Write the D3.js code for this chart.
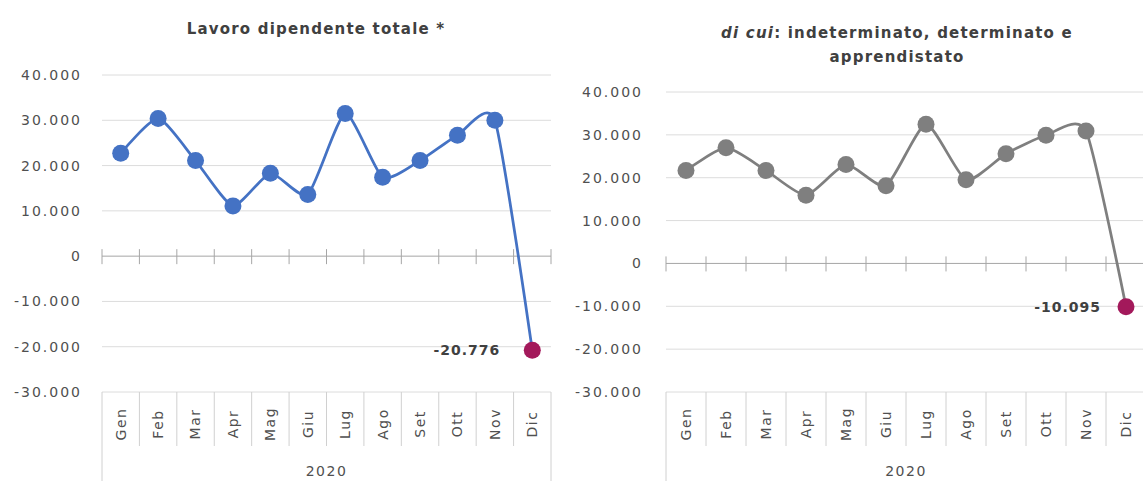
<!DOCTYPE html>
<html>
<head>
<meta charset="utf-8">
<script src="https://cdn.jsdelivr.net/npm/d3@7"></script>
<style>
  html, body { margin: 0; padding: 0; background: #fff; }
  svg { display: block; }
</style>
</head>
<body>
<svg id="chart" width="1143" height="481"></svg>
<script>
// data
var months = ['Gen', 'Feb', 'Mar', 'Apr', 'Mag', 'Giu', 'Lug', 'Ago', 'Set', 'Ott', 'Nov', 'Dic'];
var year = '2020';
var totale = [22700, 30400, 21100, 11100, 18300, 13600, 31500, 17400, 21100, 26700, 30000, -20776];
var dicui = [21700, 27000, 21700, 15900, 23100, 18100, 32500, 19500, 25600, 29900, 30900, -10095];
var yTicks = [40000, 30000, 20000, 10000, 0, -10000, -20000, -30000];

var it = d3.formatLocale({ decimal: ',', thousands: '.', grouping: [3], currency: ['€', ''], minus: '-' });
var fmt = it.format(',d');

var FONT = "'DejaVu Sans', sans-serif";
var svg = d3.select('#chart');

function panel(opt) {
  var g = svg.append('g');
  var x = d3.scaleBand().domain(months).range([opt.x0, opt.x1]);
  var y = d3.scaleLinear().domain([-30000, 40000]).range([392, opt.yTop]);

  // gridlines
  g.selectAll('line.grid')
    .data(yTicks.filter((d) => d !== 0))
    .enter()
    .append('line')
    .attr('x1', opt.x0)
    .attr('x2', opt.gridEnd)
    .attr('y1', (d) => y(d))
    .attr('y2', (d) => y(d))
    .attr('stroke', '#dcdcdc')
    .attr('stroke-width', 1);

  // y labels
  var ya = d3.axisLeft(y).tickValues(yTicks).tickSize(0).tickPadding(opt.pad).tickFormat(fmt);
  g.append('g')
    .attr('transform', 'translate(' + opt.x0 + ',0)')
    .call(ya)
    .call((s) => s.select('.domain').remove())
    .selectAll('text')
    .attr('font-family', FONT)
    .attr('font-size', 14)
    .attr('letter-spacing', 2)
    .attr('fill', '#505050');

  // zero axis with ticks at band edges
  g.append('line')
    .attr('x1', opt.x0)
    .attr('x2', opt.x1)
    .attr('y1', y(0))
    .attr('y2', y(0))
    .attr('stroke', '#a6a6a6');
  var edges = months.map((m) => x(m)).concat([opt.x1]);
  g.selectAll('line.tk')
    .data(edges)
    .enter()
    .append('line')
    .attr('x1', (d) => d)
    .attr('x2', (d) => d)
    .attr('y1', y(0) - 7)
    .attr('y2', y(0) + 8)
    .attr('stroke', '#a6a6a6');

  // category box
  g.selectAll('line.sep')
    .data(edges)
    .enter()
    .append('line')
    .attr('x1', (d) => d)
    .attr('x2', (d) => d)
    .attr('y1', 392)
    .attr('y2', (d, i) => (i === 0 || i === edges.length - 1 ? 481 : 446))
    .attr('stroke', '#d0d0d0');

  g.selectAll('text.mon')
    .data(months)
    .enter()
    .append('text')
    .attr('transform', (d) => 'translate(' + (x(d) + x.bandwidth() / 2) + ',424) rotate(-90)')
    .attr('text-anchor', 'middle')
    .attr('dy', '0.35em')
    .attr('font-family', FONT)
    .attr('font-size', 14)
    .attr('letter-spacing', 1.5)
    .attr('fill', '#505050')
    .text((d) => d);

  g.append('text')
    .attr('x', (opt.x0 + opt.x1) / 2)
    .attr('y', 476)
    .attr('text-anchor', 'middle')
    .attr('font-family', FONT)
    .attr('font-size', 14)
    .attr('letter-spacing', 1.5)
    .attr('fill', '#505050')
    .text(year);

  // smoothed line
  var pts = opt.values.map((v, i) => [x(months[i]) + x.bandwidth() / 2, y(v)]);
  var lnMkr = d3.line().curve(d3.curveCardinal.tension(0.4));
  g.append('path')
    .attr('d', lnMkr(pts))
    .attr('fill', 'none')
    .attr('stroke', opt.color)
    .attr('stroke-width', 2.75);

  g.selectAll('circle')
    .data(pts)
    .enter()
    .append('circle')
    .attr('cx', (d) => d[0])
    .attr('cy', (d) => d[1])
    .attr('r', 8.5)
    .attr('fill', (d, i) => (i === pts.length - 1 ? '#a3195b' : opt.color));

  // data label on the last point
  var last = pts[pts.length - 1];
  g.append('text')
    .attr('x', last[0] - opt.lblOff)
    .attr('y', last[1])
    .attr('dy', '0.35em')
    .attr('text-anchor', 'end')
    .attr('font-family', FONT)
    .attr('font-size', 14)
    .attr('font-weight', 'bold')
    .attr('letter-spacing', 1)
    .attr('fill', '#404040')
    .text(fmt(opt.values[opt.values.length - 1]));

  // title
  var t = g.append('text')
    .attr('x', opt.titleX)
    .attr('text-anchor', 'middle')
    .attr('font-family', FONT)
    .attr('font-size', 15)
    .attr('font-weight', 'bold')
    .attr('letter-spacing', 1.2)
    .attr('fill', '#404040');
  opt.title.forEach((line, i) => {
    var ts = t.append('tspan').attr('x', opt.titleX).attr('y', opt.titleY + i * 24);
    line.forEach((part) => {
      ts.append('tspan')
        .attr('font-style', part.italic ? 'italic' : null)
        .text(part.t);
    });
  });
}

panel({
  x0: 102, x1: 551, gridEnd: 551, yTop: 75, pad: 20, lblOff: 32,
  values: totale, color: '#4472c4',
  title: [[{ t: 'Lavoro dipendente totale *' }]],
  titleX: 316, titleY: 34
});

panel({
  x0: 666, x1: 1146, gridEnd: 1143, yTop: 92, pad: 23, lblOff: 25,
  values: dicui, color: '#7f7f7f',
  title: [[{ t: 'di cui', italic: true }, { t: ': indeterminato, determinato e' }], [{ t: 'apprendistato' }]],
  titleX: 897, titleY: 38
});
</script>
</body>
</html>
